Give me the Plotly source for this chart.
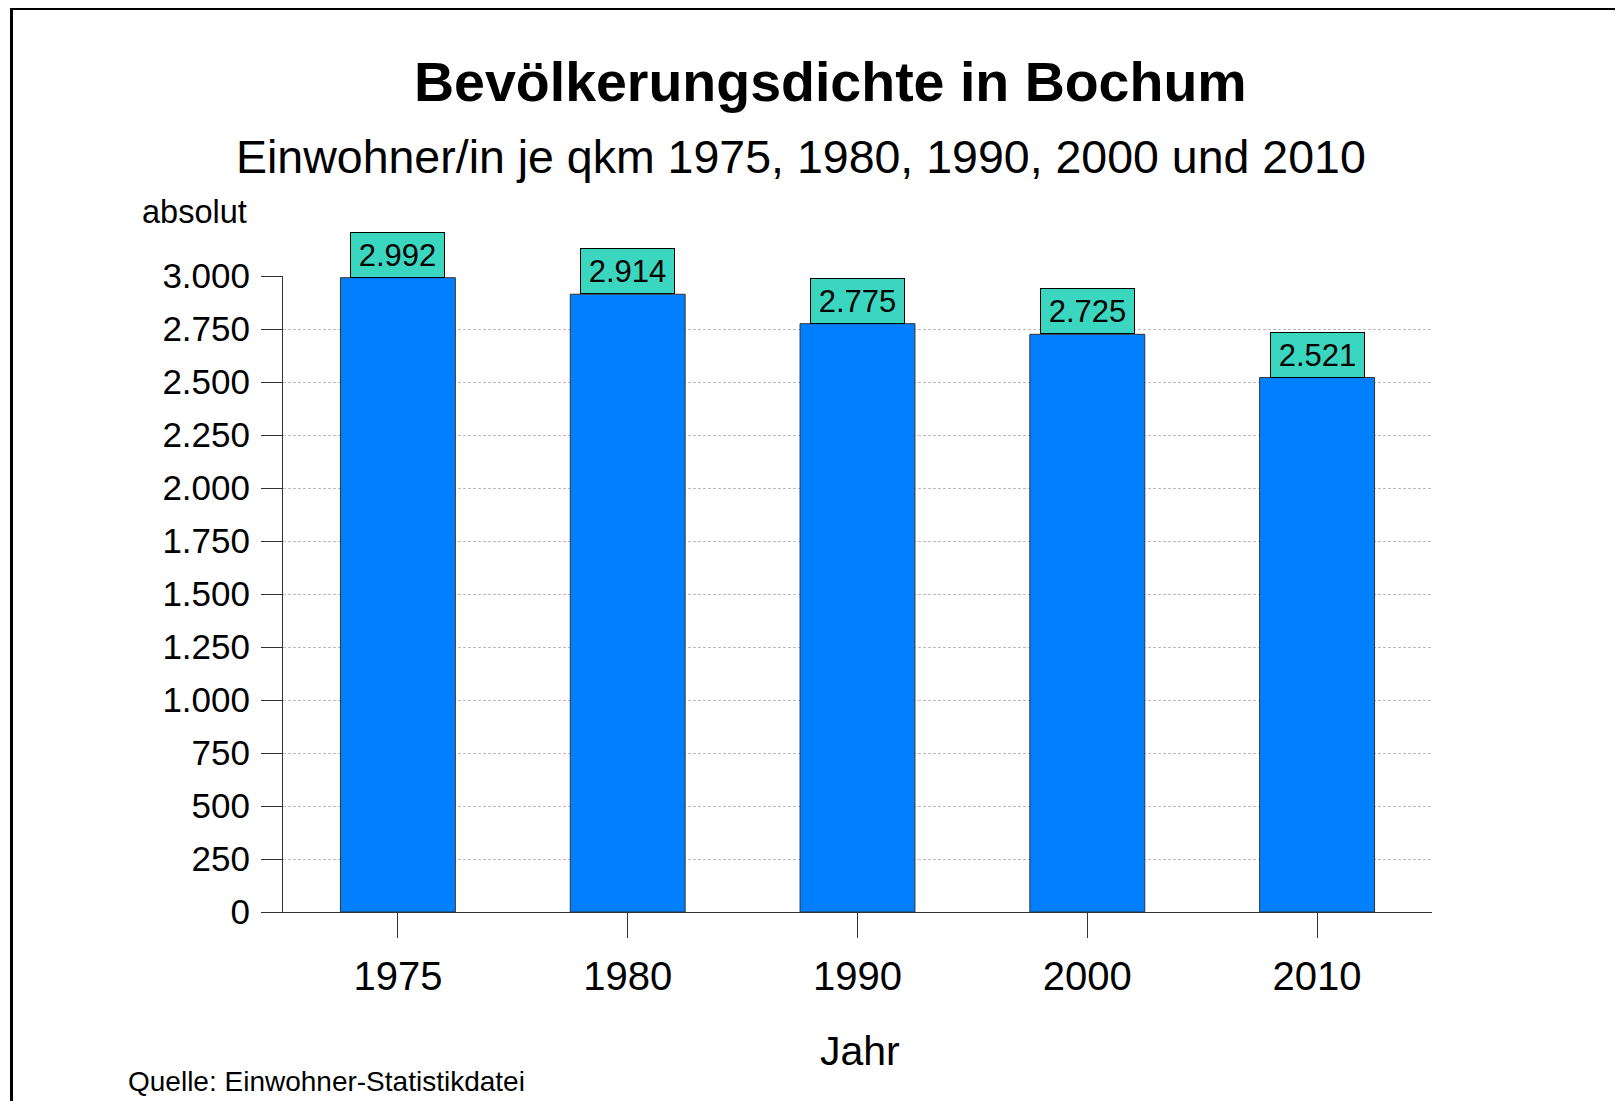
import plotly.graph_objects as go

# ---- data ----
years = ["1975", "1980", "1990", "2000", "2010"]
density = [2992, 2914, 2775, 2725, 2521]
y_ticks = [0, 250, 500, 750, 1000, 1250, 1500, 1750, 2000, 2250, 2500, 2750, 3000]

title_text = "Bevölkerungsdichte in Bochum"
subtitle_text = "Einwohner/in je qkm 1975, 1980, 1990, 2000 und 2010"
y_unit_text = "absolut"
x_title_text = "Jahr"
source_text = "Quelle: Einwohner-Statistikdatei"

FONT = "Liberation Sans, Arial, Helvetica, sans-serif"
OFF = 8                    # default page body margin
W, H = 1623 - 2 * OFF, 1109 - 2 * OFF
# plot area in page px -> figure px
L, R = 283 - OFF, 1432 - OFF
T, B = 276 - OFF, 912 - OFF

def px_x(px):
    return (px - OFF - L) / (R - L)

def px_y(py):
    return (B - (py - OFF)) / (B - T)

def de_num(v):
    return f"{v:,}".replace(",", ".")

fig = go.Figure()
fig.add_trace(go.Bar(
    x=years, y=density, width=0.5,
    marker=dict(color="#0080FF", line=dict(color="#333333", width=1)),
    hoverinfo="x+y",
))

annotations = []
for i, (yr, v) in enumerate(zip(years, density)):
    annotations.append(dict(
        x=i, y=v, xref="x", yref="y", xanchor="center", yanchor="bottom",
        showarrow=False, text=de_num(v),
        font=dict(family=FONT, size=31, color="#000000"),
        bgcolor="#3AD6C0", bordercolor="#000000", borderwidth=1, borderpad=0,
        width=93, height=44, align="center", valign="middle",
    ))

annotations += [
    dict(x=px_x(830), y=px_y(82), xref="paper", yref="paper", showarrow=False,
         xanchor="center", yanchor="middle", text=f"<b>{title_text}</b>",
         font=dict(family=FONT, size=55.5, color="#000")),
    dict(x=px_x(801), y=px_y(157), xref="paper", yref="paper", showarrow=False,
         xanchor="center", yanchor="middle", text=subtitle_text,
         font=dict(family=FONT, size=46.5, color="#000")),
    dict(x=px_x(194), y=px_y(212), xref="paper", yref="paper", showarrow=False,
         xanchor="center", yanchor="middle", text=y_unit_text,
         font=dict(family=FONT, size=32.5, color="#000")),
    dict(x=px_x(860), y=px_y(1051), xref="paper", yref="paper", showarrow=False,
         xanchor="center", yanchor="middle", text=x_title_text,
         font=dict(family=FONT, size=41, color="#000")),
    dict(x=px_x(126), y=px_y(1081), xref="paper", yref="paper", showarrow=False,
         xanchor="left", yanchor="middle", text=source_text,
         font=dict(family=FONT, size=28, color="#000")),
]

shapes = [
    dict(type="rect", xref="paper", yref="paper",
         x0=px_x(11.5), x1=px_x(1660), y0=px_y(1160), y1=px_y(8.5),
         line=dict(color="#000000", width=3), fillcolor="rgba(0,0,0,0)", layer="below"),
]

fig.update_layout(
    width=W, height=H,
    margin=dict(l=L, r=W - R, t=T, b=H - B, pad=0),
    paper_bgcolor="white", plot_bgcolor="white",
    separators=",.",
    showlegend=False,
    font=dict(family=FONT, color="#000"),
    annotations=annotations,
    shapes=shapes,
)
fig.update_xaxes(
    type="category", categoryorder="array", categoryarray=years,
    range=[-0.5, len(years) - 0.5],
    showline=True, linecolor="#333333", linewidth=1,
    ticks="outside", ticklen=25, tickcolor="#333333", tickwidth=1,
    tickfont=dict(family=FONT, size=40, color="#000"),
    ticklabelstandoff=4,
    showgrid=False, zeroline=False,
)
fig.update_yaxes(
    range=[0, 3000], tickvals=y_ticks, tickformat=",d",
    showline=True, linecolor="#333333", linewidth=1,
    ticks="outside", ticklen=21, tickcolor="#333333", tickwidth=1,
    tickfont=dict(family=FONT, size=35, color="#000"),
    ticklabelstandoff=4,
    showgrid=True, gridcolor="#bdbdbd", gridwidth=1, griddash="3px,2px",
    zeroline=False,
)

fig.write_html("out.html")
